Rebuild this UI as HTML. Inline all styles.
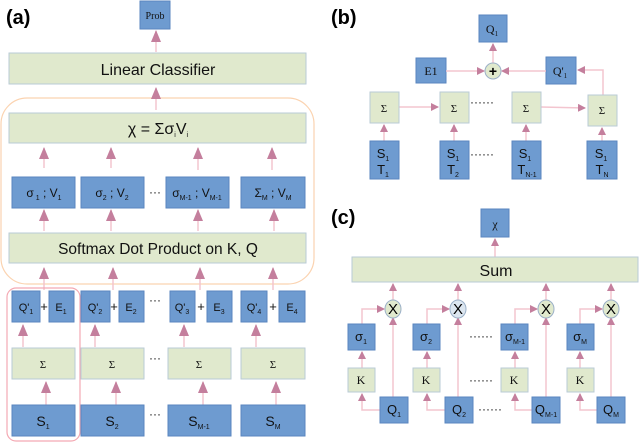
<!DOCTYPE html>
<html><head><meta charset="utf-8"><style>
body{margin:0;background:#fff}
svg{display:block;font-family:"Liberation Sans",sans-serif;font-size:12px}
.b{fill:#6e9bd0;stroke:#5a86bf;stroke-width:1}
.g{fill:#e0e9cd;stroke:#b9cbd6;stroke-width:1}
.l{stroke:#f3c5cf;stroke-width:1.5;fill:none}
.t{fill:#111;text-anchor:middle}
.s{fill:#111;text-anchor:middle;font-family:"Liberation Serif",serif}
.sub{font-size:7px}
</style></head><body>
<svg width="640" height="442" viewBox="0 0 640 442">
<defs><marker id="a" markerWidth="8" markerHeight="8" refX="7" refY="4" orient="auto" markerUnits="userSpaceOnUse"><path d="M0,0 L8,4 L0,8 z" fill="#c47f9d"/></marker>
<marker id="A" markerWidth="12" markerHeight="10" refX="11" refY="5" orient="auto" markerUnits="userSpaceOnUse"><path d="M0,0 L12,5 L0,10 z" fill="#c47f9d"/></marker></defs>

<!-- (a) -->
<text x="6" y="24" font-size="20" font-weight="bold">(a)</text>
<rect class="b" x="140" y="1" width="30" height="28"/>
<text class="s" x="155" y="19" font-size="10">Prob</text>
<line class="l" x1="156" y1="52" x2="156" y2="31" marker-end="url(#A)"/>
<rect class="g" x="9" y="53" width="297" height="31"/>
<text class="t" x="158" y="75" font-size="16">Linear Classifier</text>
<rect x="1" y="98" width="313" height="186" rx="26" fill="none" stroke="#fbd3b0" stroke-width="1.2"/>
<line class="l" x1="156" y1="110" x2="156" y2="88" marker-end="url(#A)"/>
<rect class="g" x="9" y="113" width="297" height="30"/>
<text class="t" x="158" y="134" font-size="16">χ = Σσ<tspan class="sub" dy="3">i</tspan><tspan dy="-3">V</tspan><tspan class="sub" dy="3">i</tspan></text>
<line class="l" x1="44" y1="168" x2="44" y2="148" marker-end="url(#A)"/>
<line class="l" x1="111" y1="168" x2="111" y2="148" marker-end="url(#A)"/>
<line class="l" x1="198" y1="170" x2="198" y2="148" marker-end="url(#A)"/>
<line class="l" x1="272" y1="170" x2="272" y2="148" marker-end="url(#A)"/>
<rect class="b" x="12" y="177" width="63" height="31"/><text class="t" x="44" y="197" font-size="12">σ<tspan class="sub" dy="3"> 1</tspan><tspan dy="-3"> ; V</tspan><tspan class="sub" dy="3">1</tspan></text>
<rect class="b" x="81" y="177" width="63" height="31"/><text class="t" x="112" y="197" font-size="12">σ<tspan class="sub" dy="3">2</tspan><tspan dy="-3"> ; V</tspan><tspan class="sub" dy="3">2</tspan></text>
<text class="t" x="155" y="196">···</text>
<rect class="b" x="166" y="177" width="63" height="31"/><text class="t" x="197" y="197" font-size="12">σ<tspan class="sub" dy="3">M-1</tspan><tspan dy="-3"> ; V</tspan><tspan class="sub" dy="3">M-1</tspan></text>
<rect class="b" x="241" y="177" width="64" height="31"/><text class="t" x="273" y="197" font-size="12">Σ<tspan class="sub" dy="3">M</tspan><tspan dy="-3"> ; V</tspan><tspan class="sub" dy="3">M</tspan></text>
<line class="l" x1="44" y1="231" x2="44" y2="210" marker-end="url(#A)"/>
<line class="l" x1="111" y1="231" x2="111" y2="210" marker-end="url(#A)"/>
<line class="l" x1="198" y1="231" x2="198" y2="210" marker-end="url(#A)"/>
<line class="l" x1="274" y1="231" x2="274" y2="210" marker-end="url(#A)"/>
<rect class="g" x="9" y="233" width="297" height="30"/>
<text class="t" x="158" y="254" font-size="15.5">Softmax Dot Product on K, Q</text>
<line class="l" x1="44" y1="290" x2="44" y2="268" marker-end="url(#A)"/>
<line class="l" x1="113" y1="290" x2="113" y2="268" marker-end="url(#A)"/>
<line class="l" x1="200" y1="290" x2="200" y2="268" marker-end="url(#A)"/>
<line class="l" x1="273" y1="290" x2="273" y2="268" marker-end="url(#A)"/>
<rect x="7" y="288" width="73" height="153" rx="9" fill="none" stroke="#f4a9b3" stroke-width="1.2"/>
<rect class="b" x="12" y="291" width="28" height="31"/><text class="t" x="26" y="311" font-size="11">Q'<tspan class="sub" dy="3">1</tspan></text>
<text class="t" x="44" y="311" font-size="13">+</text>
<rect class="b" x="49" y="291" width="25" height="31"/><text class="t" x="61" y="311" font-size="11">E<tspan class="sub" dy="3">1</tspan></text>
<rect class="b" x="81" y="291" width="29" height="31"/><text class="t" x="95" y="311" font-size="11">Q'<tspan class="sub" dy="3">2</tspan></text>
<text class="t" x="114" y="311" font-size="13">+</text>
<rect class="b" x="119" y="291" width="25" height="31"/><text class="t" x="131" y="311" font-size="11">E<tspan class="sub" dy="3">2</tspan></text>
<text class="t" x="155" y="304">···</text>
<rect class="b" x="170" y="291" width="25" height="31"/><text class="t" x="182" y="311" font-size="11">Q'<tspan class="sub" dy="3">3</tspan></text>
<text class="t" x="201" y="311" font-size="13">+</text>
<rect class="b" x="207" y="291" width="25" height="31"/><text class="t" x="219" y="311" font-size="11">E<tspan class="sub" dy="3">3</tspan></text>
<rect class="b" x="241" y="291" width="26" height="31"/><text class="t" x="254" y="311" font-size="11">Q'<tspan class="sub" dy="3">4</tspan></text>
<text class="t" x="273" y="311" font-size="13">+</text>
<rect class="b" x="279" y="291" width="26" height="31"/><text class="t" x="292" y="311" font-size="11">E<tspan class="sub" dy="3">4</tspan></text>
<line class="l" x1="23" y1="347" x2="23" y2="325" marker-end="url(#A)"/>
<line class="l" x1="95" y1="347" x2="95" y2="325" marker-end="url(#A)"/>
<line class="l" x1="184" y1="347" x2="184" y2="325" marker-end="url(#A)"/>
<line class="l" x1="256" y1="347" x2="256" y2="325" marker-end="url(#A)"/>
<rect class="g" x="12" y="348" width="63" height="31"/><text class="s" x="43" y="368" font-size="11">Σ</text>
<rect class="g" x="81" y="348" width="63" height="31"/><text class="s" x="112" y="368" font-size="11">Σ</text>
<text class="t" x="155" y="362">···</text>
<rect class="g" x="168" y="348" width="63" height="31"/><text class="s" x="199" y="368" font-size="11">Σ</text>
<rect class="g" x="241" y="348" width="64" height="31"/><text class="s" x="273" y="368" font-size="11">Σ</text>
<line class="l" x1="46" y1="405" x2="46" y2="382" marker-end="url(#A)"/>
<line class="l" x1="116" y1="405" x2="116" y2="382" marker-end="url(#A)"/>
<line class="l" x1="203" y1="405" x2="203" y2="382" marker-end="url(#A)"/>
<line class="l" x1="276" y1="405" x2="276" y2="382" marker-end="url(#A)"/>
<rect class="b" x="12" y="405" width="63" height="31"/><text class="t" x="43" y="426" font-size="14">S<tspan class="sub" dy="3">1</tspan></text>
<rect class="b" x="81" y="405" width="63" height="31"/><text class="t" x="112" y="426" font-size="14">S<tspan class="sub" dy="3">2</tspan></text>
<text class="t" x="155" y="418">···</text>
<rect class="b" x="168" y="405" width="63" height="31"/><text class="t" x="199" y="426" font-size="14">S<tspan class="sub" dy="3">M-1</tspan></text>
<rect class="b" x="241" y="405" width="64" height="31"/><text class="t" x="273" y="426" font-size="14">S<tspan class="sub" dy="3">M</tspan></text>

<!-- (b) -->
<text x="331" y="24" font-size="20" font-weight="bold">(b)</text>
<rect class="b" x="479" y="15" width="28" height="27"/><text class="s" x="492" y="33" font-size="12">Q<tspan class="sub" dy="3">1</tspan></text>
<rect class="b" x="416" y="58" width="30" height="25"/><text class="s" x="431" y="75" font-size="12">E1</text>
<rect class="b" x="546" y="57" width="30" height="27"/><text class="s" x="560" y="75" font-size="12">Q'<tspan class="sub" dy="3">1</tspan></text>
<line class="l" x1="493" y1="63" x2="493" y2="44" marker-end="url(#a)"/>
<line class="l" x1="446" y1="71" x2="484" y2="71" marker-end="url(#a)"/>
<line class="l" x1="546" y1="71" x2="502" y2="71" marker-end="url(#a)"/>
<circle cx="493" cy="71" r="8" fill="#e0e9cd" stroke="#9bb0c8"/>
<text x="493" y="76" font-size="14" text-anchor="middle" font-weight="bold">+</text>
<polyline class="l" points="603,95 603,70 578,70" marker-end="url(#a)"/>
<line class="l" x1="399" y1="107" x2="438" y2="107" marker-end="url(#a)"/>
<line class="l" x1="541" y1="107" x2="585" y2="108" marker-end="url(#a)"/>
<rect class="g" x="370" y="92" width="29" height="31"/><text class="s" x="384" y="112" font-size="11">Σ</text>
<rect class="g" x="440" y="92" width="29" height="31"/><text class="s" x="454" y="112" font-size="11">Σ</text>
<text class="t" x="482" y="106">······</text>
<rect class="g" x="512" y="92" width="29" height="31"/><text class="s" x="526" y="112" font-size="11">Σ</text>
<rect class="g" x="588" y="95" width="29" height="31"/><text class="s" x="602" y="114" font-size="11">Σ</text>
<line class="l" x1="384" y1="141" x2="384" y2="125" marker-end="url(#a)"/>
<line class="l" x1="454" y1="141" x2="454" y2="125" marker-end="url(#a)"/>
<line class="l" x1="526" y1="141" x2="526" y2="125" marker-end="url(#a)"/>
<line class="l" x1="602" y1="141" x2="602" y2="128" marker-end="url(#a)"/>
<g font-size="13">
<rect class="b" x="370" y="141" width="29" height="38"/><text class="t" x="383" y="158">S<tspan class="sub" dy="3">1</tspan></text><text class="t" x="383" y="174">T<tspan class="sub" dy="3">1</tspan></text>
<rect class="b" x="440" y="141" width="29" height="38"/><text class="t" x="453" y="158">S<tspan class="sub" dy="3">1</tspan></text><text class="t" x="453" y="174">T<tspan class="sub" dy="3">2</tspan></text>
<text class="t" x="482" y="158" font-size="12">······</text>
<rect class="b" x="512" y="141" width="29" height="38"/><text class="t" x="525" y="158">S<tspan class="sub" dy="3">1</tspan></text><text class="t" x="527" y="174">T<tspan class="sub" dy="3">N-1</tspan></text>
<rect class="b" x="587" y="141" width="30" height="38"/><text class="t" x="601" y="158">S<tspan class="sub" dy="3">1</tspan></text><text class="t" x="602" y="174">T<tspan class="sub" dy="3">N</tspan></text>
</g>

<!-- (c) -->
<text x="331" y="224" font-size="20" font-weight="bold">(c)</text>
<rect class="b" x="481" y="209" width="28" height="28"/><text class="s" x="495" y="228" font-size="12">χ</text>
<line class="l" x1="495" y1="257" x2="495" y2="239" marker-end="url(#a)"/>
<rect class="g" x="352" y="257" width="286" height="25"/>
<text class="t" x="496" y="276" font-size="16">Sum</text>
<g font-size="13">
<line class="l" x1="393" y1="301" x2="393" y2="284" marker-end="url(#a)"/>
<line class="l" x1="458" y1="301" x2="458" y2="284" marker-end="url(#a)"/>
<line class="l" x1="546" y1="301" x2="546" y2="284" marker-end="url(#a)"/>
<line class="l" x1="611" y1="301" x2="611" y2="284" marker-end="url(#a)"/>
<polyline class="l" points="362,324 362,309 384,309" marker-end="url(#a)"/>
<polyline class="l" points="427,324 427,309 449,309" marker-end="url(#a)"/>
<polyline class="l" points="515,324 515,309 537,309" marker-end="url(#a)"/>
<polyline class="l" points="580,324 580,309 602,309" marker-end="url(#a)"/>
<line class="l" x1="393" y1="397" x2="393" y2="318" marker-end="url(#a)"/>
<line class="l" x1="458" y1="397" x2="458" y2="318" marker-end="url(#a)"/>
<line class="l" x1="546" y1="397" x2="546" y2="318" marker-end="url(#a)"/>
<line class="l" x1="611" y1="397" x2="611" y2="318" marker-end="url(#a)"/>
<ellipse cx="393" cy="309" rx="8" ry="9" fill="#e0e9cd" stroke="#9bb0c8"/><text x="393" y="314" font-size="15" text-anchor="middle">X</text>
<ellipse cx="458" cy="309" rx="8" ry="9" fill="#dce6f0" stroke="#9bb0c8"/><text x="458" y="314" font-size="15" text-anchor="middle">X</text>
<ellipse cx="546" cy="309" rx="8" ry="9" fill="#e0e9cd" stroke="#9bb0c8"/><text x="546" y="314" font-size="15" text-anchor="middle">X</text>
<ellipse cx="611" cy="309" rx="8" ry="9" fill="#e0e9cd" stroke="#9bb0c8"/><text x="611" y="314" font-size="15" text-anchor="middle">X</text>
<line class="l" x1="362" y1="368" x2="362" y2="352" marker-end="url(#a)"/>
<line class="l" x1="427" y1="368" x2="427" y2="352" marker-end="url(#a)"/>
<line class="l" x1="515" y1="368" x2="515" y2="352" marker-end="url(#a)"/>
<line class="l" x1="580" y1="368" x2="580" y2="352" marker-end="url(#a)"/>
<polyline class="l" points="380,410 362,410 362,394" marker-end="url(#a)"/>
<polyline class="l" points="445,410 427,410 427,394" marker-end="url(#a)"/>
<polyline class="l" points="532,410 515,410 515,394" marker-end="url(#a)"/>
<polyline class="l" points="597,410 580,410 580,394" marker-end="url(#a)"/>
<rect class="b" x="348" y="324" width="27" height="26"/><text class="t" x="361" y="341">σ<tspan class="sub" dy="3">1</tspan></text>
<rect class="b" x="413" y="324" width="27" height="26"/><text class="t" x="426" y="341">σ<tspan class="sub" dy="3">2</tspan></text>
<text class="t" x="481" y="340" font-size="12">······</text>
<rect class="b" x="501" y="324" width="27" height="26"/><text class="t" x="515" y="341">σ<tspan class="sub" dy="3">M-1</tspan></text>
<rect class="b" x="567" y="324" width="27" height="26"/><text class="t" x="580" y="341">σ<tspan class="sub" dy="3">M</tspan></text>
<rect class="g" x="348" y="368" width="27" height="24"/><text class="s" x="361" y="384" font-size="12">K</text>
<rect class="g" x="413" y="368" width="27" height="24"/><text class="s" x="426" y="384" font-size="12">K</text>
<text class="t" x="481" y="384" font-size="12">······</text>
<rect class="g" x="501" y="368" width="27" height="24"/><text class="s" x="514" y="384" font-size="12">K</text>
<rect class="g" x="567" y="368" width="27" height="24"/><text class="s" x="580" y="384" font-size="12">K</text>
<rect class="b" x="380" y="397" width="28" height="26"/><text class="t" x="394" y="414">Q<tspan class="sub" dy="3">1</tspan></text>
<rect class="b" x="445" y="397" width="28" height="26"/><text class="t" x="459" y="414">Q<tspan class="sub" dy="3">2</tspan></text>
<text class="t" x="490" y="413" font-size="12">······</text>
<rect class="b" x="532" y="397" width="28" height="26"/><text class="t" x="546" y="414">Q<tspan class="sub" dy="3">M-1</tspan></text>
<rect class="b" x="597" y="397" width="28" height="26"/><text class="t" x="611" y="414">Q<tspan class="sub" dy="3">M</tspan></text>
</g>
</svg>
</body></html>
